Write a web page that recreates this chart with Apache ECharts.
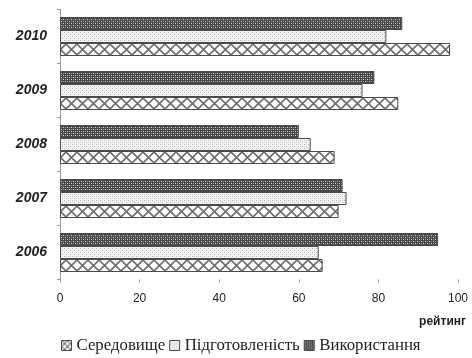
<!DOCTYPE html>
<html>
<head>
<meta charset="utf-8">
<script src="https://cdn.jsdelivr.net/npm/echarts@6/dist/echarts.min.js"></script>
<style>
  html, body { margin: 0; padding: 0; background: #fff; }
  #chart { width: 472px; height: 358px; }
</style>
</head>
<body>
<div id="chart"></div>
<script>
// Rating by year for three indicators
const years = ['2006', '2007', '2008', '2009', '2010'];
const seriesNames = ['Середовище', 'Підготовленість', 'Використання'];
const seredovyshche = [66, 70, 69, 85, 98];
const pidgotovlenist = [65, 72, 63, 76, 82];
const vykorystannia = [95, 71, 60, 79, 86];
const xTicks = [0, 20, 40, 60, 80, 100];
const axisTitle = 'рейтинг';

// Layout of the plot: one 54px band per year, three 13px bars in each
const GRID_TOP = 9.5;
const BAND = 54;
const BAR_H = 13;

// Hatched fills drawn into small tiles and repeated across each bar
function tile(w, h, draw) {
  const c = document.createElement('canvas');
  c.width = w; c.height = h;
  const ctx = c.getContext('2d');
  draw(ctx, w, h);
  return { image: c, repeat: 'repeat' };
}

function drawCrosses(ctx, w, rows, barH) {
  ctx.strokeStyle = '#6e6e6e';
  ctx.lineWidth = 1.7;
  ctx.beginPath();
  rows.forEach(y0 => {
    [-w, 0, w].forEach(x0 => {
      ctx.moveTo(x0, y0 + 1); ctx.lineTo(x0 + w, y0 + barH - 1);
      ctx.moveTo(x0 + w, y0 + 1); ctx.lineTo(x0, y0 + barH - 1);
    });
  });
  ctx.stroke();
}

// Lattice of X shapes that spans the full height of the lowest bar in a band
const barOffset = (BAND - 3 * BAR_H) / 2 + 2 * BAR_H;
const crossRowStart = Math.round(GRID_TOP + barOffset) % BAND;
const crossFill = tile(11, BAND, (ctx, w, h) => {
  ctx.fillStyle = '#ffffff';
  ctx.fillRect(0, 0, w, h);
  drawCrosses(ctx, w, [crossRowStart, crossRowStart - BAND], BAR_H);
});

// Smaller cross lattice for the legend swatch
const crossSwatch = tile(6, 6, (ctx, w, h) => {
  ctx.fillStyle = '#ffffff';
  ctx.fillRect(0, 0, w, h);
  ctx.strokeStyle = '#6e6e6e';
  ctx.lineWidth = 1.2;
  ctx.beginPath();
  ctx.moveTo(0, 0); ctx.lineTo(w, h);
  ctx.moveTo(w, 0); ctx.lineTo(0, h);
  ctx.stroke();
});

const lightDots = tile(4, 4, (ctx, w, h) => {
  ctx.fillStyle = '#f4f4f4';
  ctx.fillRect(0, 0, w, h);
  ctx.fillStyle = '#b4b4b4';
  ctx.fillRect(0, 0, 1, 1);
  ctx.fillRect(2, 2, 1, 1);
  ctx.fillStyle = '#dcdcdc';
  ctx.fillRect(2, 0, 1, 1);
  ctx.fillRect(0, 2, 1, 1);
});

const darkCheck = tile(4, 4, (ctx, w, h) => {
  ctx.fillStyle = '#474747';
  ctx.fillRect(0, 0, w, h);
  ctx.fillStyle = '#d4d4d4';
  ctx.fillRect(1, 1, 1, 1);
  ctx.fillRect(3, 3, 1, 1);
  ctx.fillStyle = '#8c8c8c';
  ctx.fillRect(3, 1, 1, 1);
  ctx.fillRect(1, 3, 1, 1);
});

const chart = echarts.init(document.getElementById('chart'), null, { renderer: 'canvas' });

// Bars stack top-down in series order, so the top bar of each band comes first
const barSeries = [
  { name: 'Використання', data: vykorystannia, fill: darkCheck },
  { name: 'Підготовленість', data: pidgotovlenist, fill: lightDots },
  { name: 'Середовище', data: seredovyshche, fill: crossFill }
];

const swatches = { 'Середовище': crossSwatch, 'Підготовленість': lightDots, 'Використання': darkCheck };

chart.setOption({
  animation: false,
  backgroundColor: '#ffffff',
  grid: { left: 60, right: 14, top: GRID_TOP, height: BAND * years.length, containLabel: false },
  xAxis: {
    type: 'value',
    min: 0,
    max: 100,
    interval: 20,
    axisLine: { show: false },
    axisTick: { show: true, length: 3, lineStyle: { color: '#999' } },
    splitLine: { show: false },
    axisLabel: {
      margin: 13,
      color: '#222',
      fontFamily: 'Liberation Sans, Arial, sans-serif',
      fontSize: 12,
      formatter: v => (xTicks.includes(v) ? String(v) : '')
    }
  },
  yAxis: {
    type: 'category',
    data: years,
    axisLine: { show: true, lineStyle: { color: '#999', width: 1 } },
    axisTick: { show: true, length: 3, lineStyle: { color: '#999' } },
    axisLabel: {
      margin: 13,
      color: '#222',
      fontFamily: 'Liberation Sans, Arial, sans-serif',
      fontSize: 14,
      fontWeight: 'bold',
      fontStyle: 'italic'
    }
  },
  legend: {
    bottom: 4,
    left: 61,
    padding: 0,
    itemWidth: 10,
    itemHeight: 10,
    itemGap: 4,
    icon: 'rect',
    textStyle: {
      fontFamily: 'Liberation Serif, Times New Roman, serif',
      fontSize: 16.8,
      color: '#222'
    },
    data: seriesNames.map(name => ({
      name,
      itemStyle: { color: swatches[name], borderColor: '#4a4a4a', borderWidth: 1 }
    }))
  },
  graphic: [{
    type: 'text',
    right: 6,
    top: 316,
    style: {
      text: axisTitle,
      font: 'bold 12px Liberation Sans, Arial, sans-serif',
      fill: '#222'
    }
  }],
  series: barSeries.map(s => ({
    name: s.name,
    type: 'bar',
    data: s.data,
    barGap: '0%',
    barWidth: BAR_H,
    itemStyle: {
      color: s.fill,
      borderColor: '#4a4a4a',
      borderWidth: 1
    }
  }))
});
</script>
</body>
</html>
